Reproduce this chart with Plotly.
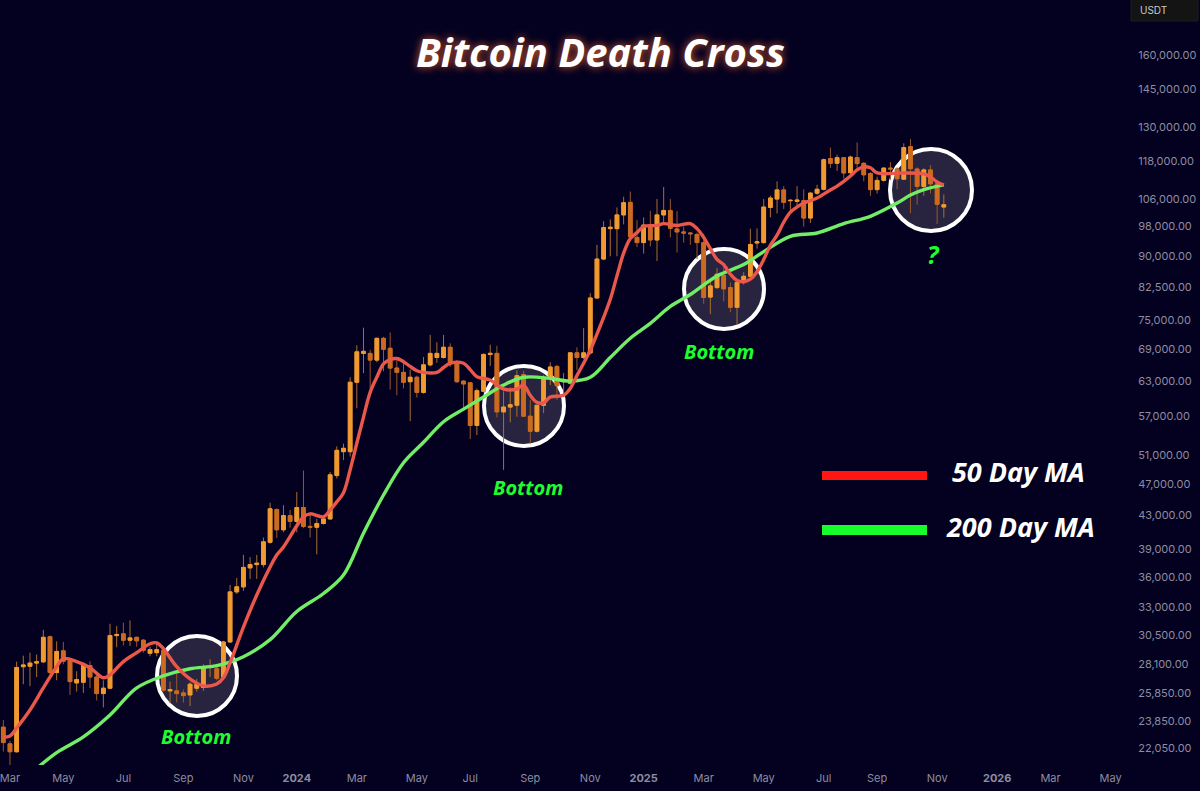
import pandas as pd
import plotly.graph_objects as go

FIRST_WEEK = "2023-02-27"
WEEKS = 142

open_ = [23440,22350,21850,27860,27900,28150,28250,30350,27400,29150,
         28350,26600,26650,27950,27050,25800,26200,30450,30600,30050,
         30300,30050,28950,29000,29200,26000,26000,25850,25700,26200,
         26250,27800,27700,27050,29900,34500,35000,36950,37300,37300,
         39750,43650,41200,42900,42200,43900,41600,41500,41950,42500,
         48100,51500,51500,62800,68200,68200,66900,71200,69200,65400,
         64600,62900,63700,61000,66000,67400,67400,69400,66500,63000,
         62700,55500,61200,68000,68200,57700,58500,58800,64200,57000,
         54600,58800,63500,65700,62900,62600,68300,67400,68300,79900,
         89300,97400,97400,101300,105000,95000,93600,98400,94300,101300,
         102600,97300,96500,96200,95800,93600,80100,82300,85200,82300,
         77800,83500,85000,93500,93600,103500,106000,108800,105500,105300,
         105500,100400,107800,109000,119000,117400,119300,114300,119300,117400,
         114000,108900,111800,115800,115500,112200,123100,115500,109900,115200,
         110700,103600]
close_ = [22430,21850,27800,28000,28150,28250,30300,27400,29100,28300,
          26700,26850,28050,27050,25800,26200,30450,30550,30050,30250,
          30000,29200,29250,29250,26050,26100,25800,25650,26500,26500,
          27800,27850,26950,29900,34500,35000,37000,37300,37450,39800,
          43750,41200,42900,42200,43900,41600,41500,41950,42500,48200,
          51700,52000,62800,68500,68600,66900,71200,69000,65400,64600,
          62800,63700,61000,66000,68200,68200,69400,66300,62900,62500,
          55500,61300,68000,68200,57700,58500,58900,64000,57000,54600,
          58800,63500,65600,62200,63000,68300,67400,68300,79900,89300,
          97700,97800,101300,104900,95200,93600,98400,94300,101300,102600,
          97500,96500,96200,96000,93600,80000,82700,85500,82000,77800,
          83500,85000,93100,93800,103600,106300,108800,105000,105600,105700,
          100400,107800,109000,118600,117400,119300,114200,119500,117300,113600,
          108900,111800,115800,115500,112300,122800,115600,109900,115200,110700,
          104400,104300]
high_ = [23920,22550,28260,28750,29000,28850,30950,30450,29950,29900,
         28450,27500,28200,28300,27250,26800,31500,31300,31600,31800,
         30350,30150,29500,29900,29500,26700,27300,26100,26650,26900,
         28050,28450,27850,30000,35200,35900,38350,38100,38350,40300,
         44500,43800,44200,43600,45900,48800,43000,42500,42800,48600,
         52300,52700,63700,69800,73400,68900,71300,71500,72400,67300,
         66500,65100,64000,67500,71900,70400,71900,70200,66900,63200,
         62800,61700,68200,69900,69700,61200,61900,65000,64900,59700,
         58900,64100,66500,66000,64500,68500,69400,73300,81000,93000,
         99500,100000,103500,106700,108300,99800,100600,102500,106000,109700,
         106000,102400,98000,96400,96300,96000,83900,87000,88000,83500,
         83700,86000,97400,97500,106000,107000,111500,110000,106000,110000,
         109000,108200,110400,119000,122800,120300,119500,120000,124600,117700,
         114500,113000,116000,117800,116000,124300,125800,116000,115700,116800,
         111000,107400]
low_ = [21860,20950,21800,26500,26350,27050,28150,27250,26800,28050,
        25700,25950,25850,26200,25300,24800,26150,29450,29600,29550,
        29500,29000,28700,28700,25950,25100,25150,25150,24900,25950,
        26000,27050,26800,26900,29850,34300,34600,35800,35800,37000,
        39600,40250,40900,41450,40900,41400,40300,38400,41800,42400,
        47700,50300,50800,58300,64450,61600,66500,64800,61500,60500,
        61700,56200,60100,60800,65700,66400,67200,65600,62700,58300,
        53400,54000,61000,65800,56800,48900,56000,56900,56900,52700,
        54400,57500,62300,59700,60700,62400,65000,67100,68000,79700,
        89000,90000,90000,98600,95000,92400,90700,92600,88800,99000,
        95000,91000,93600,93000,89300,78600,76300,82000,79100,76700,
        74100,83000,84800,92000,93300,100600,101700,103000,102000,103700,
        98000,99000,107300,108600,115800,114900,112400,113000,115000,111500,
        107000,107700,111400,112000,109000,111900,101800,104300,107000,107700,
        98700,100500]

ma50_week = [0,1,2,4,6,8,9,11,13,15,16,18,20,22,23,24,26,28,30,32,33,34,36,38,40,41,42,44,45,46,48,49,50,51,52,53,54,55,56,57,58,59,60,61,62,63,65,66,67,69,70,71,73,75,77,78,79,80,81,82,84,85,86,87,88,89,90,91,92,93,94,95,96,98,99,101,103,104,105,106,107,108,109,110,111,112,113,114,115,116,117,118,119,120,122,124,125,126,127,128,129,130,131,135,138,139,140,141]
ma50_value = [22780,22850,23380,24620,26220,27860,28510,28270,27780,26990,27220,28270,29000,29750,29830,29330,27860,26900,26370,26520,26990,28180,31200,34200,37050,38340,39220,41670,42750,43120,42750,43600,44620,45800,48900,52750,56850,61000,63700,66200,67000,67200,66600,65700,64900,64600,64600,65500,66300,66300,65100,63800,63200,61600,61600,62300,60500,59300,59200,60200,60500,61700,64000,66300,68800,72060,75600,79600,85100,90800,94700,96300,98000,98300,98800,98300,98800,97400,95000,92000,89200,87900,85500,84000,83700,84300,86100,89200,92900,95600,99200,102100,103600,104800,106300,108800,110000,111500,113200,115200,116200,115900,114200,114200,113900,112900,111300,110300]

ma200_week = [5,8,12,16,20,24,28,32,36,40,44,48,51,54,57,60,63,66,69,72,75,78,82,85,88,91,94,97,100,103,107,111,114,118,122,126,130,134,136,138,141]
ma200_value = [20830,21800,22800,24270,26220,27140,27700,27940,28670,30100,32620,34340,36200,40800,45500,49900,52900,56100,58150,60200,62300,63700,63500,63000,63700,67400,71200,74300,78000,80700,85100,87900,91200,95300,96200,98800,100900,104800,107200,108900,110400]

x_tick_dates = ["2023-03-06","2023-05-01","2023-07-03","2023-09-04","2023-11-06","2024-01-01","2024-03-04","2024-05-06","2024-07-01","2024-09-02","2024-11-04","2024-12-30","2025-03-03","2025-05-05","2025-07-07","2025-09-01","2025-11-03","2026-01-05","2026-03-02","2026-05-04"]
x_tick_labels = ["Mar","May","Jul","Sep","Nov","<b>2024</b>","Mar","May","Jul","Sep","Nov","<b>2025</b>","Mar","May","Jul","Sep","Nov","<b>2026</b>","Mar","May"]
y_ticks = [160000,145000,130000,118000,106000,98000,90000,82500,75000,69000,63000,57000,51000,47000,43000,39000,36000,33000,30500,28100,25850,23850,22050]
y_tick_labels = [f"{v:,.2f}" for v in y_ticks]

bottom_labels = ["Bottom","Bottom","Bottom","?"]
legend_labels = ["50 Day MA","200 Day MA"]

BG = "#040020"
UP = "#f09a30"
DOWN = "#cc6a20"
PW, PH = 1130, 765

def xp(px): return px / PW
def yp(py): return 1 - py / PH

weeks = pd.date_range(FIRST_WEEK, periods=WEEKS, freq="7D")
body_top = [max(a, b) for a, b in zip(open_, close_)]
body_bot = [min(a, b) for a, b in zip(open_, close_)]

fig = go.Figure()
# thin, dim wicks
fig.add_trace(go.Candlestick(
    x=weeks, open=open_, high=high_, low=low_, close=close_,
    increasing=dict(line=dict(color="#a86e30", width=1), fillcolor=UP),
    decreasing=dict(line=dict(color="#96592a", width=1), fillcolor=DOWN),
    whiskerwidth=0, showlegend=False, hoverinfo="skip"))
# bright bodies on top
fig.add_trace(go.Candlestick(
    x=weeks, open=open_, high=body_top, low=body_bot, close=close_,
    increasing=dict(line=dict(color=UP, width=1), fillcolor=UP),
    decreasing=dict(line=dict(color=DOWN, width=1), fillcolor=DOWN),
    whiskerwidth=0, showlegend=False, hoverinfo="skip"))
fig.add_trace(go.Scatter(x=weeks[ma200_week], y=ma200_value, mode="lines",
                         line=dict(color="#72ee66", width=3.4, shape="spline", smoothing=1.0),
                         showlegend=False, hoverinfo="skip"))
fig.add_trace(go.Scatter(x=weeks[ma50_week], y=ma50_value, mode="lines",
                         line=dict(color="#e9584a", width=3.4, shape="spline", smoothing=1.0),
                         showlegend=False, hoverinfo="skip"))

shapes = []
for cx, cy, r in [(197,676,40),(524,406,40),(724,289,40),(931,190,41)]:
    shapes.append(dict(type="circle", xref="paper", yref="paper", layer="below",
                       x0=xp(cx-r), x1=xp(cx+r), y0=yp(cy+r), y1=yp(cy-r),
                       fillcolor="#28243f", line=dict(color="#ffffff", width=4)))
shapes.append(dict(type="rect", xref="paper", yref="paper", x0=xp(822), x1=xp(927),
                   y0=yp(480), y1=yp(471), fillcolor="#ff1512", line=dict(width=0)))
shapes.append(dict(type="rect", xref="paper", yref="paper", x0=xp(822), x1=xp(927),
                   y0=yp(535), y1=yp(525), fillcolor="#16ff2c", line=dict(width=0)))
shapes.append(dict(type="rect", xref="paper", yref="paper", x0=xp(1131), x1=xp(1198),
                   y0=yp(21), y1=yp(-1), fillcolor="#141414", line=dict(color="#1d1d22", width=1)))

ann = []
def text(px, py, s, size, color, family="Open Sans", **kw):
    ann.append(dict(xref="paper", yref="paper", x=xp(px), y=yp(py), text=s, showarrow=False,
                    xanchor="center", yanchor="middle",
                    font=dict(size=size, color=color, family=family, **kw)))

text(600, 52, "<b><i>Bitcoin Death Cross</i></b>", 40, "#ffffff",
     shadow="0 0 9px rgba(255,110,50,0.85)")
for (px, py), s in zip([(196,736),(528,488),(719,352)], bottom_labels[:3]):
    text(px, py, f"<b><i>{s}</i></b>", 20, "#1cff2c")
text(933, 254, f"<b><i>{bottom_labels[3]}</i></b>", 25, "#1cff2c")
text(1018, 471, f"<b><i>{legend_labels[0]}</i></b>", 27, "#ffffff")
text(1020, 526, f"<b><i>{legend_labels[1]}</i></b>", 27, "#ffffff")
text(1153, 10, "USDT", 10, "#c9c9cc", family="Inter")

x0 = weeks[0] - pd.Timedelta(days=3.46)
x1 = x0 + pd.Timedelta(days=PW / 0.9529)

fig.update_layout(
    width=1200, height=791, margin=dict(l=0, r=1200-PW, t=0, b=791-PH),
    paper_bgcolor=BG, plot_bgcolor=BG, shapes=shapes, annotations=ann,
    showlegend=False, boxgap=0.2,
    xaxis=dict(type="date", range=[x0, x1], rangeslider=dict(visible=False),
               tickmode="array", tickvals=x_tick_dates, ticktext=x_tick_labels,
               tickangle=0, showgrid=False, zeroline=False, showline=False,
               ticks="outside", ticklen=3, tickcolor=BG, ticklabeloverflow="allow",
               tickfont=dict(family="Inter", size=11, color="#8d8da0")),
    yaxis=dict(type="log", side="right", range=[4.3230, 5.2723],
               autorange=False, tickmode="array", tickvals=y_ticks, ticktext=y_tick_labels,
               showgrid=False, zeroline=False, showline=False,
               ticks="outside", ticklen=5, tickcolor=BG,
               tickfont=dict(family="Inter", size=11, color="#8d8da0")),
)

fig.write_html("out.html", config=dict(displayModeBar=False),
               post_script="document.body.style.margin='0';document.documentElement.style.overflow='hidden';")
